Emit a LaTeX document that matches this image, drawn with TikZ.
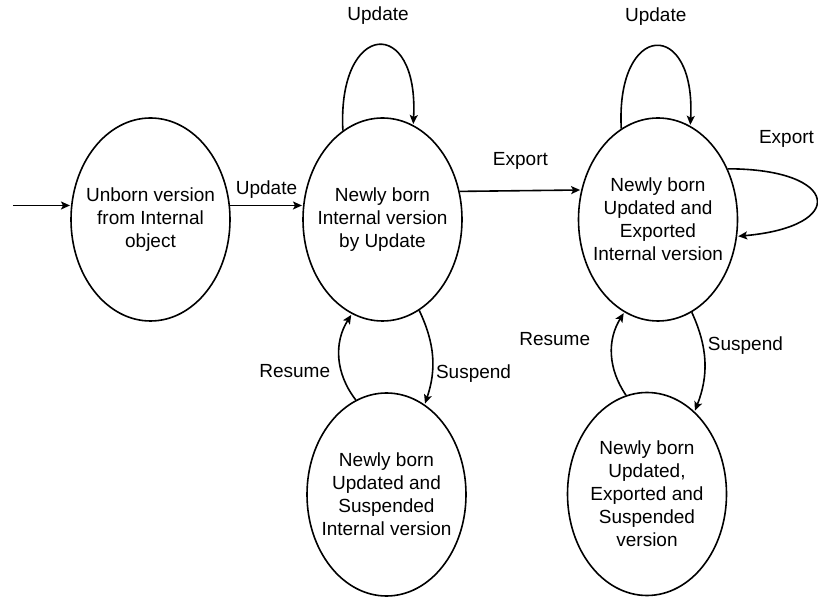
\documentclass[tikz,border=0pt]{standalone}
\usepackage{fontspec}
\setmainfont{Liberation Sans}
\usetikzlibrary{automata,shapes.geometric,arrows.meta,positioning}

\begin{document}
\begin{tikzpicture}[
                            x=1pt, y=1pt,
                            ->, >={Stealth[length=9pt,width=8pt,inset=2pt]},
                            shorten >=1pt,
                            line width=1.6pt,
                            font=\fontsize{19pt}{23pt}\selectfont
                        ]

                        \tikzstyle{every state}=[ellipse,fill=white,draw=black,text=black,
                                                 minimum width=159pt,minimum height=203pt,
                                                 inner xsep=-20pt,align=center]

                        \useasboundingbox (0,0) rectangle (818,599);

                        \node[state] (A) at (150.5,379.5) {Unborn version\\from Internal\\object};
                        \node[state] (B) [node distance=232pt, right of=A] {Newly born\\Internal version\\by Update};
                        \node[state] (C) [node distance=275.5pt, right of=B] {Newly born\\Updated and\\Exported\\Internal version};
                        \node[state] (D) [node distance=275pt, below of=B, xshift=4pt] {Newly born\\Updated and\\Suspended\\Internal version};
                        \node[state] (E) [node distance=274.5pt, below of=C, xshift=-11pt] {Newly born\\Updated,\\Exported and\\Suspended\\version};

                        \coordinate (entry) at ([xshift=-58pt]A.170);

                        \path
                        (entry) edge                                     (A.170)
                        (A.10)  edge node[above=3pt] (lblAB) {Update}   (B.170)
                        (B.20)  edge node[above=17pt] (lblBC) {Export}  (C.159)
                        (B.114) edge [out=93, in=87, looseness=4]  node[above=17pt] (lblBB) {Update} (B.72)
                        (C.112) edge [out=93, in=87, looseness=4]  node[above=17pt] (lblCC) {Update} (C.71)
                        (C.36)  edge [out=0, in=5, looseness=4.2]  node[pos=0.22, above=25pt] (lblCX) {Export} (C.-12)
                        (B.-68) edge [bend left=22] node[pos=0.68, right] (lblBD) {Suspend}     (D.67)
                        (D.108) edge [bend left=35] node[pos=0.35, left=7pt] (lblDB) {Resume}   (B.-108)
                        (C.-70) edge [bend left=23] node[pos=0.33, right=1pt] (lblCE) {Suspend} (E.60)
                        (E.102) edge [bend left=33] node[pos=0.68, left=19pt] (lblEC) {Resume}  (C.-110)
                        ;
                    \end{tikzpicture}
\end{document}
